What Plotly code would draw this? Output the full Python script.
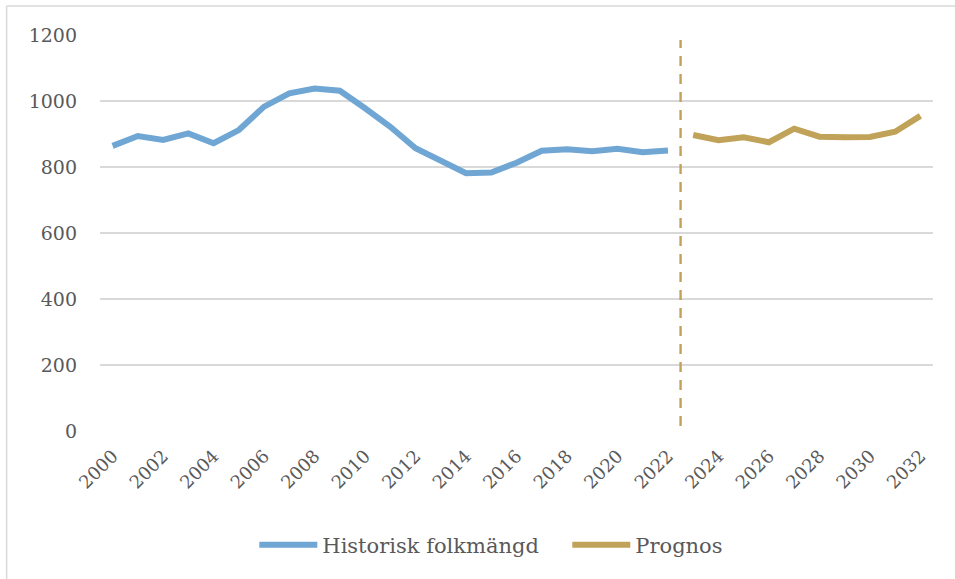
import plotly.graph_objects as go

hist_years = list(range(2000, 2023))
hist_values = [864, 894, 882, 902, 872, 912, 983, 1023, 1038, 1031, 978, 922,
               857, 821, 781, 783, 813, 849, 854, 848, 855, 845, 850]
prog_years = list(range(2023, 2033))
prog_values = [897, 881, 890, 875, 916, 892, 890, 891, 907, 955]
divider_year = 2022.5
divider_span = [15, 1185]

FONT = "DejaVu Serif"
TXT = "#595959"
BLUE = "#6fa6d3"
GOLD = "#c0a258"

fig = go.Figure()
fig.add_trace(go.Scatter(x=hist_years, y=hist_values, mode="lines",
                         name="Historisk folkmängd",
                         line=dict(color=BLUE, width=6)))
fig.add_trace(go.Scatter(x=prog_years, y=prog_values, mode="lines",
                         name="Prognos",
                         line=dict(color=GOLD, width=6)))

fig.add_shape(type="line", xref="x", yref="y",
              x0=divider_year, x1=divider_year,
              y0=divider_span[0], y1=divider_span[1],
              line=dict(color=GOLD, width=2.4, dash="10px,8px"))

L, R, T, B = 99.5, 933.5, 35, 431
W, H = 955, 579
def px(x): return (x - L) / (R - L)
def py(y): return (B - y) / (B - T)
fig.add_shape(type="line", xref="paper", yref="paper",
              x0=px(6), x1=px(960), y0=py(6), y1=py(6),
              line=dict(color="#d9d9d9", width=1.5))
fig.add_shape(type="line", xref="paper", yref="paper",
              x0=px(6), x1=px(6), y0=py(6), y1=py(585),
              line=dict(color="#d9d9d9", width=1.5))

fig.update_layout(
    width=W, height=H,
    margin=dict(l=L, r=W - R, t=T, b=H - B, autoexpand=False),
    paper_bgcolor="white", plot_bgcolor="white",
    font=dict(family=FONT, color=TXT, size=19),
    showlegend=True,
    legend=dict(orientation="h", x=px(254), y=py(545), xanchor="left",
                yanchor="middle", font=dict(size=21, color=TXT),
                itemwidth=58, entrywidth=240, entrywidthmode="pixels",
                bgcolor="rgba(0,0,0,0)"),
)
fig.update_xaxes(range=[1999.5, 2032.5], tick0=2000, dtick=2,
                 tickangle=-45, showgrid=False, zeroline=False,
                 showline=False, ticks="", ticklabelstandoff=10,
                 tickfont=dict(size=18, color=TXT))
fig.update_yaxes(range=[0, 1200], dtick=200, showgrid=True,
                 gridcolor="#d9d9d9", gridwidth=1.5, zeroline=False,
                 showline=False, ticks="", ticklabelstandoff=22,
                 tickfont=dict(size=19, color=TXT))

fig.write_html(
    "out.html",
    config={"displayModeBar": False},
    post_script="document.body.style.margin='0';document.body.style.overflow='hidden';",
)
